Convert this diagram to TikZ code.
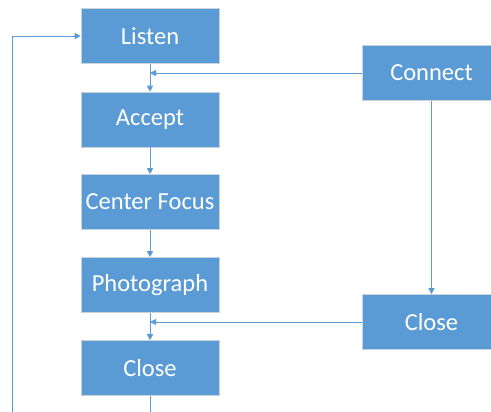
\documentclass[tikz,border=0pt]{standalone}
\usepackage{fontspec}
\setmainfont{Carlito}
\usetikzlibrary{arrows.meta}
\definecolor{boxblue}{HTML}{5B9BD5}
\definecolor{boxedge}{HTML}{C9D3DC}
\tikzset{
  stepbox/.style={rectangle, fill=boxblue, draw=boxedge, line width=0.6pt,
    minimum width=138pt, minimum height=55pt, inner sep=0pt,
    text=white, font=\fontsize{24.5}{28}\selectfont},
  flow/.style={draw=boxblue, line width=0.9pt},
  flowarrow/.style={flow, -{Triangle[length=6pt,width=6pt]}}
}
\begin{document}
\begin{tikzpicture}[x=1pt,y=-1pt]
  \useasboundingbox (0,0) rectangle (491,412);
  \clip (0,0) rectangle (491,412);
  % main column
  \node[stepbox] (listen) at (150,36) {Listen};
  \node[stepbox] (accept) at (150,119.5) {Accept};
  \node[stepbox] (focus)  at (150,202) {Center Focus};
  \node[stepbox] (photo)  at (150,285) {Photograph};
  \node[stepbox] (close)  at (150,368) {Close};
  % side column
  \node[stepbox] (connect) at (431.5,73) {Connect};
  \node[stepbox] (rclose)  at (431.5,322) {Close};
  % join points on the main column
  \coordinate (j1) at (150,73);
  \coordinate (j2) at (150,322);
  \coordinate (loopbot) at (12,420);
  \coordinate (loopcorner) at (12,36);
  \coordinate (tail) at (150,420);
  % connectors
  \draw[flowarrow] (listen.south) -- (accept.north);
  \draw[flowarrow] (accept.south) -- (focus.north);
  \draw[flowarrow] (focus.south) -- (photo.north);
  \draw[flowarrow] (photo.south) -- (close.north);
  \draw[flowarrow] (connect.west) -- (j1);
  \draw[flowarrow] (connect.south) -- (rclose.north);
  \draw[flowarrow] (rclose.west) -- (j2);
  \draw[flow] (close.south) -- (tail);
  \draw[flowarrow] (loopbot) -- (loopcorner) -- (listen.west);
\end{tikzpicture}
\end{document}
